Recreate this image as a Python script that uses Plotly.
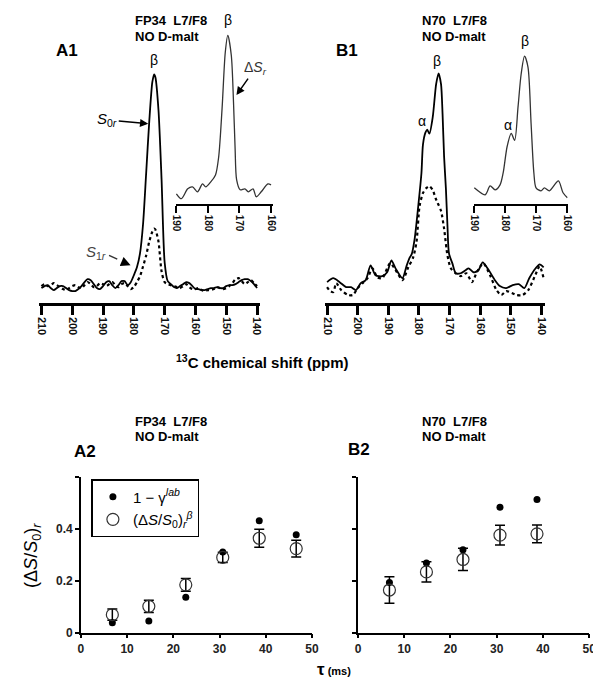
import plotly.graph_objects as go

W, H = 601, 680

# ---- spectra (ppm, intensity in arbitrary units) ----
a1_ppm = [210, 209, 208, 207, 206, 205, 204, 203, 202, 201, 200, 199, 198, 197, 196, 195,
          194, 193, 192, 191, 190, 189, 188, 187, 186, 185, 184, 183, 182, 181, 180, 179,
          178, 177, 176, 175, 174, 173.4, 173, 172, 171, 170, 169, 168, 167, 166, 165, 164,
          163, 162, 161, 160, 159, 158, 157, 156, 155, 154, 153, 152, 151, 150, 149, 148,
          147, 146, 145, 144, 143, 142, 141, 140]
a1_s0 = [15, 17, 18, 15, 13, 15, 17, 17, 15, 13, 12, 12, 14, 17, 21, 24,
         23, 19, 15, 14, 17, 21, 22, 18, 15, 18, 22, 22, 18, 21, 28, 36,
         50, 80, 131, 183, 223, 231, 228, 195, 125, 41, 22, 19, 16, 15, 17, 19,
         21, 20, 17, 14, 14, 13, 13, 14, 15, 15, 16, 15, 15, 17, 18, 18,
         19, 21, 23, 24, 24, 22, 19, 15]
a1_s1 = [17, 19, 17, 18, 20, 18, 16, 14, 13, 15, 17, 18, 16, 15, 18, 21,
         19, 16, 17, 20, 19, 17, 19, 21, 18, 16, 19, 20, 17, 14, 16, 21,
         27, 37, 48, 62, 72, 75, 74, 62, 32, 21, 19, 18, 17, 16, 15, 17,
         19, 16, 14, 14, 15, 13, 12, 13, 13, 14, 16, 15, 14, 15, 17, 20,
         24, 25, 22, 19, 21, 23, 20, 17]

a1_inset_ppm = [190.0, 188.4, 186.4, 184.9, 183.3, 181.7, 180.7, 179.1, 177.6, 176.6, 175.5,
                174.5, 173.7, 172.6, 171.9, 171.4, 170.9, 169.8, 168.3, 167.2, 165.7, 164.7,
                163.1, 161.0, 160.0]
a1_inset_ds = [10, 5, 15, 17, 12, 20, 17, 22, 29, 47, 97,
               153, 170, 150, 103, 57, 24, 14, 15, 12, 15, 7,
               12, 20, 19]

b1_s0_ppm = [210, 208.0, 205.9, 203.8, 202.2, 200.6, 199.0, 197.4, 195.8, 194.2, 192.0, 190.4,
             189.0, 187.5, 185.4, 184.0, 183.0, 182.4, 181.4, 180.3, 179.2, 178.7, 177.9, 177.3,
             176.6, 175.5, 174.4, 173.6, 172.8, 172.3, 171.8, 171.2, 170.7, 170.2, 169.1, 168.0,
             166.4, 164.8, 163.8, 162.2, 160.6, 159.2, 157.4, 155.2, 153.6, 151.5, 149.4, 147.4,
             145.6, 144.0, 141.9, 140.6, 139.3]
b1_s0 = [21, 25, 21, 16, 16, 13, 20, 23, 38, 28, 27, 31,
         43, 34, 25, 38, 46, 49, 65, 96, 131, 160, 172, 175,
         171, 188, 221, 232, 221, 191, 148, 115, 78, 50, 40, 30,
         30, 33, 35, 31, 33, 41, 34, 23, 17, 15, 18, 19,
         15, 25, 35, 39, 36]
b1_s1_ppm = [210, 209, 208.0, 207.0, 205.4, 203.2, 201.6, 200.0, 198.4, 196.8, 195.2, 193.6,
             192.0, 189.4, 187.2, 185.4, 183.5, 181.9, 180.8, 179.8, 178.7, 177.6, 176.6, 175.5,
             174.6, 173.9, 172.8, 171.8, 170.7, 169.6, 168.0, 166.4, 164.5, 162.7, 161.1, 159.0,
             156.8, 154.7, 153.1, 151.5, 149.7, 148.2, 146.2, 144.3, 141.9, 140.6, 139.3]
b1_s1 = [16, 12, 11, 20, 13, 8, 8, 15, 20, 25, 35, 26,
         25, 40, 31, 23, 36, 46, 62, 98, 111, 116, 118, 114,
         106, 101, 93, 75, 48, 35, 30, 27, 30, 21, 31, 40,
         28, 13, 8, 12, 10, 8, 8, 13, 29, 37, 25]

b1_inset_ppm = [190.0, 186.5, 184.9, 183.3, 181.7, 180.7, 179.4, 178.1, 177.0, 175.9, 174.9,
                173.8, 172.7, 171.7, 170.8, 170.1, 168.5, 167.4, 165.8, 162.9, 161.4, 160.0]
b1_inset_ds = [16, 9, 18, 14, 19, 31, 58, 71, 64, 98, 131,
               149, 138, 81, 31, 16, 13, 16, 13, 23, 11, 6]

# ---- dephasing data ----
tau = [6.8, 14.7, 22.7, 30.7, 38.6, 46.6]
a2_gamma = [0.038, 0.044, 0.136, 0.311, 0.432, 0.377]
a2_ds = [0.069, 0.101, 0.184, 0.290, 0.364, 0.324]
a2_err = [0.022, 0.024, 0.025, 0.020, 0.035, 0.032]

tau_b = [6.8, 14.8, 22.7, 30.7, 38.7]
b2_gamma = [0.193, 0.268, 0.320, 0.484, 0.514]
b2_ds = [0.164, 0.234, 0.282, 0.376, 0.381]
b2_err = [0.051, 0.039, 0.043, 0.038, 0.034]

FONT = "Liberation Sans, Arial, sans-serif"


def px(x):
    return x / W


def py(y):
    return 1 - y / H


fig = go.Figure()

spec = dict(mode="lines", showlegend=False, hoverinfo="skip")
fig.add_trace(go.Scatter(x=a1_ppm, y=a1_s0, line=dict(color="black", width=1.8, shape="spline", smoothing=0.7),
                         xaxis="x", yaxis="y", **spec))
fig.add_trace(go.Scatter(x=a1_ppm, y=a1_s1, line=dict(color="black", width=2.2, dash="dot", shape="spline", smoothing=0.7),
                         xaxis="x", yaxis="y", **spec))
fig.add_trace(go.Scatter(x=a1_inset_ppm, y=a1_inset_ds, line=dict(color="#333", width=1.3, shape="spline", smoothing=0.8),
                         xaxis="x2", yaxis="y2", **spec))
fig.add_trace(go.Scatter(x=b1_s0_ppm, y=b1_s0, line=dict(color="black", width=1.8, shape="spline", smoothing=0.7),
                         xaxis="x3", yaxis="y3", **spec))
fig.add_trace(go.Scatter(x=b1_s1_ppm, y=b1_s1, line=dict(color="black", width=2.2, dash="dot", shape="spline", smoothing=0.7),
                         xaxis="x3", yaxis="y3", **spec))
fig.add_trace(go.Scatter(x=b1_inset_ppm, y=b1_inset_ds, line=dict(color="#333", width=1.3, shape="spline", smoothing=0.8),
                         xaxis="x4", yaxis="y4", **spec))

# dephasing panels
fig.add_trace(go.Scatter(x=tau, y=a2_gamma, mode="markers", name="1 − γ<sup><i>lab</i></sup>",
                         marker=dict(color="black", size=7), xaxis="x5", yaxis="y5"))
fig.add_trace(go.Scatter(x=tau, y=a2_ds, mode="markers",
                         name="(Δ<i>S</i>/<i>S</i><sub>0</sub>)<sub><i>r</i></sub><sup><i>β</i></sup>",
                         marker=dict(symbol="circle-open", color="#333", size=12, line=dict(width=1.2)),
                         error_y=dict(type="data", array=a2_err, color="black", thickness=1.5, width=5),
                         xaxis="x5", yaxis="y5"))
fig.add_trace(go.Scatter(x=tau_b, y=b2_gamma, mode="markers", showlegend=False,
                         marker=dict(color="black", size=7), xaxis="x6", yaxis="y6"))
fig.add_trace(go.Scatter(x=tau_b, y=b2_ds, mode="markers", showlegend=False,
                         marker=dict(symbol="circle-open", color="#333", size=12, line=dict(width=1.2)),
                         error_y=dict(type="data", array=b2_err, color="black", thickness=1.5, width=5),
                         xaxis="x6", yaxis="y6"))

main_x = dict(showline=True, linewidth=2.5, linecolor="black", ticks="outside", ticklen=9, tickwidth=2.5,
              tickcolor="black", tickangle=90, tickvals=[210, 200, 190, 180, 170, 160, 150, 140],
              tickfont=dict(family=FONT, size=11, color="#111", weight="bold"), showgrid=False, zeroline=False)
inset_x = dict(showline=True, linewidth=2, linecolor="black", ticks="outside", ticklen=7, tickwidth=2,
               tickcolor="black", tickangle=90, tickvals=[190, 180, 170, 160],
               tickfont=dict(family=FONT, size=10, color="#111", weight="bold"), showgrid=False, zeroline=False)
hidden_y = dict(visible=False, showgrid=False, zeroline=False)
dep_x = dict(range=[0, 50], tickvals=[0, 10, 20, 30, 40, 50], showline=True, linewidth=1.5, linecolor="black",
             ticks="outside", ticklen=4, tickwidth=1.5, tickcolor="black", showgrid=False, zeroline=False,
             tickfont=dict(family=FONT, size=12, color="#222", weight="bold"))
dep_y = dict(range=[0, 0.6], tickvals=[0, 0.2, 0.4, 0.6], showline=True, linewidth=1.5, linecolor="black",
             ticks="outside", ticklen=4, tickwidth=1.5, tickcolor="black", showgrid=False, zeroline=False,
             tickfont=dict(family=FONT, size=12, color="#222", weight="bold"))

main_yd = [py(298), py(60)]
inset_yd = [py(197.7), py(20)]

fig.update_layout(
    width=W, height=H, margin=dict(l=0, r=0, t=0, b=0),
    paper_bgcolor="white", plot_bgcolor="white",
    font=dict(family=FONT, color="black"),
    xaxis=dict(domain=[px(27), px(252)], range=[210.64, 139.05], anchor="y", **main_x),
    yaxis=dict(domain=main_yd, range=[0, 238], anchor="x", **hidden_y),
    xaxis2=dict(domain=[px(166), px(265)], range=[190.22, 159.47], anchor="y2", **inset_x),
    yaxis2=dict(domain=inset_yd, range=[0, 177.7], anchor="x2", **hidden_y),
    xaxis3=dict(domain=[px(318), px(543)], range=[210.8, 138.8], anchor="y3", **main_x),
    yaxis3=dict(domain=main_yd, range=[0, 238], anchor="x3", **hidden_y),
    xaxis4=dict(domain=[px(470), px(566)], range=[190.22, 159.9], anchor="y4", **inset_x),
    yaxis4=dict(domain=inset_yd, range=[0, 177.7], anchor="x4", **hidden_y),
    xaxis5=dict(domain=[px(69.3), px(305)], anchor="y5", **dep_x),
    yaxis5=dict(domain=[py(631), py(474)], anchor="x5", ticktext=["0", "0.2", "0.4", ""], **dep_y),
    xaxis6=dict(domain=[px(352), px(588)], anchor="y6", **dep_x),
    yaxis6=dict(domain=[py(631), py(474)], anchor="x6", showticklabels=False, **dep_y),
    legend=dict(x=px(80), y=py(476), xanchor="left", yanchor="top", bordercolor="black", borderwidth=1.5,
                bgcolor="white", font=dict(family=FONT, size=15, color="black"), tracegroupgap=4,
                entrywidth=70, entrywidthmode="pixels"),
)

ann = []


def text(x, y, t, size=13, bold=False, color="black", xanchor="center", **kw):
    ann.append(dict(x=px(x), y=py(y), xref="paper", yref="paper", text=t, showarrow=False,
                    xanchor=xanchor, yanchor="middle",
                    font=dict(family=FONT, size=size, color=color, weight="bold" if bold else "normal"), **kw))


# titles of panels
for x0, name, lab, ylab in [(122, "FP34  L7/F8", "A1", (42, 43)), (415, "N70  L7/F8", "B1", (328, 43))]:
    text(x0, 13, name, 13, True, xanchor="left")
    text(x0, 29, "NO D-malt", 13, True, xanchor="left")
    text(ylab[0], ylab[1], lab, 17, True, xanchor="left")
for x0, name, lab, ylab in [(122, "FP34  L7/F8", "A2", (60, 448)), (415, "N70  L7/F8", "B2", (340, 446))]:
    text(x0, 418, name, 13, True, xanchor="left")
    text(x0, 433, "NO D-malt", 13, True, xanchor="left")
    text(ylab[0], ylab[1], lab, 17, True, xanchor="left")

# peak labels
text(144, 53, "β", 14)
text(219, 12, "β", 14)
text(433, 54, "β", 14)
text(417, 114, "α", 14)
text(522, 33, "β", 14)
text(505, 118, "α", 14)

# axis titles
text(255, 357, "<sup>13</sup>C chemical shift (ppm)", 15, True)
text(20, 553, "(Δ<i>S</i>/<i>S</i><sub>0</sub>)<sub><i>r</i></sub>", 18, textangle=-90)
text(308, 668, "<span style='font-size:17px'>τ</span> (ms)", 11, True, xanchor="left")

# arrows with labels
ann.append(dict(x=px(138), y=py(117), xref="paper", yref="paper", ax=-41, ay=-4,
                text="<i>S</i><sub>0<i>r</i></sub>", showarrow=True, arrowhead=2, arrowsize=1.1,
                arrowwidth=1.5, arrowcolor="black", font=dict(family=FONT, size=15, color="black")))
ann.append(dict(x=px(228), y=py(88), xref="paper", yref="paper", ax=19, ay=-27,
                text="Δ<i>S</i><sub><i>r</i></sub>", showarrow=True, arrowhead=2, arrowsize=1.1,
                arrowwidth=1.5, arrowcolor="black", font=dict(family=FONT, size=14, color="#333")))
text(85, 247, "<i>S</i><sub>1<i>r</i></sub>", 15, color="#444")
ann.append(dict(x=px(120), y=py(260), xref="paper", yref="paper", ax=-7, ay=-3, text="",
                showarrow=True, arrowhead=2, arrowsize=1.3, arrowwidth=1.5, arrowcolor="black"))

fig.update_layout(annotations=ann)
fig.add_shape(type="line", xref="paper", yref="paper", x0=px(98), y0=py(250), x1=px(115), y1=py(257.5),
              line=dict(color="#333", width=1.5, dash="dash"))

fig.write_html("out.html")
